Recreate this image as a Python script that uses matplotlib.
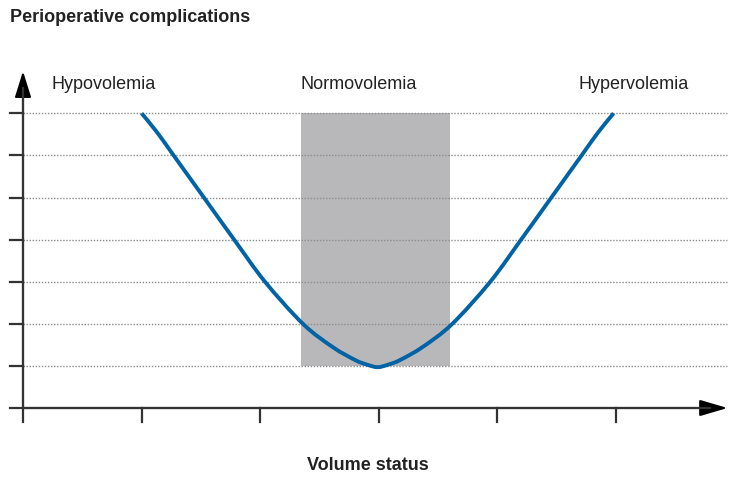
import matplotlib
matplotlib.use("Agg")

import numpy as np
import matplotlib.pyplot as plt
from matplotlib.patches import Rectangle, PathPatch
from matplotlib.path import Path

# Curva de complicaciones
volumen = [1.00, 1.13, 1.27, 1.525, 1.78, 2.04, 2.36, 2.61, 2.80, 2.90,
           2.99, 3.08, 3.18, 3.37, 3.62, 3.94, 4.20, 4.455, 4.71, 4.85, 4.98]
complicaciones = [7.0, 6.55, 6.0, 5.0, 4.0, 3.0, 2.0, 1.45, 1.14, 1.03,
                  0.97, 1.03, 1.14, 1.45, 2.0, 3.0, 4.0, 5.0, 6.0, 6.55, 7.0]

# Zona de normovolemia
normo_x = [2.34, 3.60]
normo_y = [1, 7]

x_ticks = [0, 1, 2, 3, 4, 5]
y_ticks = [0, 1, 2, 3, 4, 5, 6, 7]
grid_y = [1, 2, 3, 4, 5, 6, 7]

etiquetas = ["Hypovolemia", "Normovolemia", "Hypervolemia"]
etiquetas_x = [0.24, 2.34, 4.68]

W, H = 738, 485
ox, oy = 23, 76          # origen en pixeles (desde abajo)
ux, uy = 118.6, 42.1     # pixeles por unidad
x_fin, y_fin = 5.94, 8.0

fuente = ["Liberation Sans Narrow", "Liberation Sans", "DejaVu Sans"]


def trazo_suave(xs, ys):
    # Bezier (Catmull-Rom) que pasa por los puntos leidos
    p = np.column_stack([xs, ys])
    verts = [p[0]]
    codes = [Path.MOVETO]
    for i in range(len(p) - 1):
        p0 = p[i - 1] if i > 0 else p[i]
        p3 = p[i + 2] if i + 2 < len(p) else p[i + 1]
        c1 = p[i] + (p[i + 1] - p0) / 6
        c2 = p[i + 1] - (p3 - p[i]) / 6
        verts += [c1, c2, p[i + 1]]
        codes += [Path.CURVE4] * 3
    return Path(verts, codes)


fig = plt.figure(figsize=(W / 100, H / 100), dpi=100)
ax = fig.add_axes([0, 0, 1, 1])
ax.set_xlim(-ox / ux, (W - ox) / ux)
ax.set_ylim(-oy / uy, (H - oy) / uy)
ax.axis("off")

eje = "#333333"

# rejilla punteada
ax.hlines(grid_y, 0, x_fin, colors="#8c8c8c", linestyles=(0, (1, 1.2)), lw=1.0, zorder=3)

# zona gris
ax.add_patch(Rectangle((normo_x[0], normo_y[0]), normo_x[1] - normo_x[0],
                       normo_y[1] - normo_y[0], facecolor="#b8b7ba", edgecolor="none", zorder=2))

# ejes con flechas
ax.annotate("", xy=(x_fin, 0), xytext=(0, 0),
            arrowprops=dict(arrowstyle="-|>,head_length=1.7,head_width=0.5",
                            color="black", lw=1.5, shrinkA=0, shrinkB=0), zorder=4)
ax.annotate("", xy=(0, y_fin), xytext=(0, 0),
            arrowprops=dict(arrowstyle="-|>,head_length=1.6,head_width=0.5",
                            color="black", lw=1.5, shrinkA=0, shrinkB=0), zorder=4)
ax.plot([0, x_fin - 0.15], [0, 0], color=eje, lw=1.6, zorder=4)
ax.plot([0, 0], [0, y_fin - 0.4], color=eje, lw=1.6, zorder=4)

# marcas
for t in y_ticks:
    ax.plot([-13 / ux, 0], [t, t], color=eje, lw=1.6, zorder=4)
for t in x_ticks:
    ax.plot([t, t], [0, -14 / uy], color=eje, lw=1.6, zorder=4)

# curva
ax.add_patch(PathPatch(trazo_suave(volumen, complicaciones), facecolor="none",
                       edgecolor="#0063a6", lw=2.8, capstyle="butt", zorder=5))

# textos
for txt, xx in zip(etiquetas, etiquetas_x):
    ax.text(xx, 7.7, txt, fontsize=13, color="#222222", ha="left", va="center", family=fuente)

fig.text(10 / W, 1 - 18 / H, "Perioperative complications", fontsize=13, fontweight="bold",
         color="#222222", ha="left", va="center", family=fuente)
fig.text(368 / W, 1 - 466 / H, "Volume status", fontsize=13, fontweight="bold",
         color="#222222", ha="center", va="center", family=fuente)

fig.savefig("out.png", dpi=100)
plt.close(fig)
